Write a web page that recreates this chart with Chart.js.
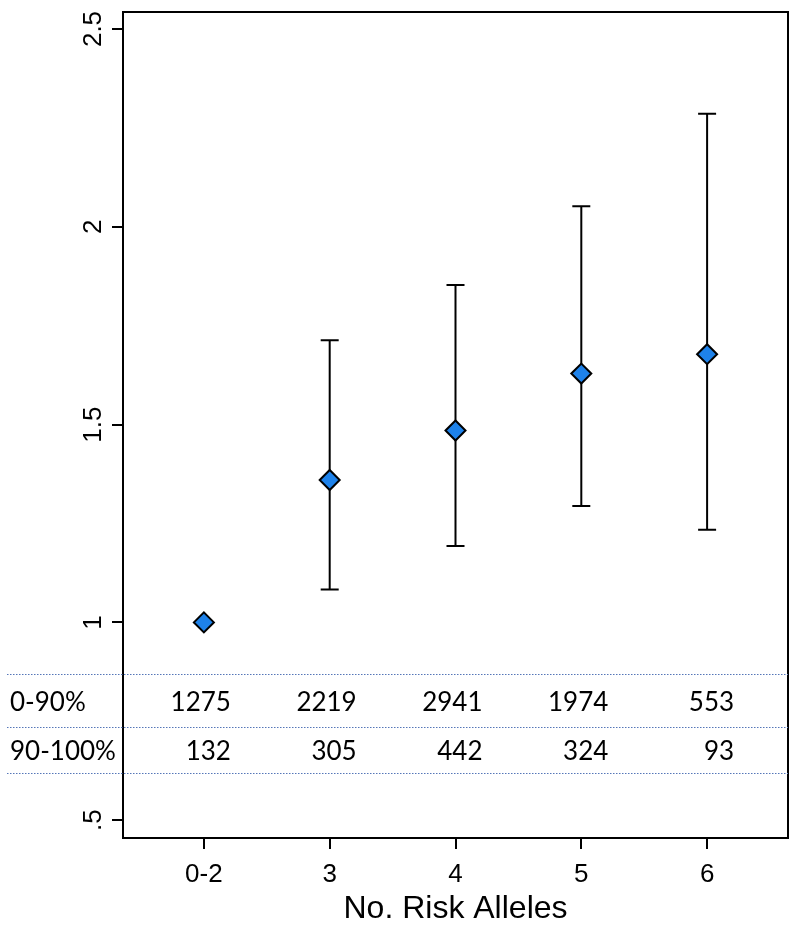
<!DOCTYPE html>
<html>
<head>
<meta charset="utf-8">
<script src="https://cdn.jsdelivr.net/npm/chart.js@4.4.0/dist/chart.umd.min.js"></script>
<style>
  html, body { margin: 0; padding: 0; background: #fff; }
  #wrap { width: 800px; height: 928px; }
</style>
</head>
<body>
<div id="wrap"><canvas id="chart" width="800" height="928"></canvas></div>
<script>
// data
const categories = ["0-2", "3", "4", "5", "6"];
const oddsRatio = [1.0, 1.36, 1.485, 1.629, 1.678];
const ciLow = [null, 1.083, 1.193, 1.294, 1.234];
const ciHigh = [null, 1.713, 1.853, 2.052, 2.286];
const yTicks = [0.5, 1, 1.5, 2, 2.5];
const yTickLabels = [".5", "1", "1.5", "2", "2.5"];
const rowLabels = ["0-90%", "90-100%"];
const counts0to90 = [1275, 2219, 2941, 1974, 553];
const counts90to100 = [132, 305, 442, 324, 93];

const tableRows = [counts0to90, counts90to100];
const tableLines = [674, 727, 773];
const rowCenters = [703, 752];

const points = categories.map((c, i) => ({ x: i + 1, y: oddsRatio[i] }));

// error bars, box, rotated y labels and the count table
const extras = {
  id: "extras",
  beforeDatasetsDraw(chart) {
    const ctx = chart.ctx, xs = chart.scales.x, ys = chart.scales.y;
    ctx.save();
    ctx.strokeStyle = "#000";
    ctx.lineWidth = 2;
    categories.forEach((c, i) => {
      if (ciLow[i] == null) return;
      const px = xs.getPixelForValue(i + 1);
      const lo = ys.getPixelForValue(ciLow[i]);
      const hi = ys.getPixelForValue(ciHigh[i]);
      ctx.beginPath();
      ctx.moveTo(px, lo); ctx.lineTo(px, hi);
      ctx.moveTo(px - 9, lo); ctx.lineTo(px + 9, lo);
      ctx.moveTo(px - 9, hi); ctx.lineTo(px + 9, hi);
      ctx.stroke();
    });
    ctx.restore();
  },
  afterDraw(chart) {
    const ctx = chart.ctx, a = chart.chartArea, xs = chart.scales.x, ys = chart.scales.y;
    ctx.save();
    // box
    ctx.strokeStyle = "#000";
    ctx.lineWidth = 2;
    ctx.strokeRect(a.left, a.top, a.right - a.left, a.bottom - a.top);

    // y tick labels, vertical
    ctx.fillStyle = "#000";
    ctx.font = "26px 'Liberation Sans', Arial, sans-serif";
    ctx.textAlign = "center";
    ctx.textBaseline = "middle";
    yTicks.forEach((v, i) => {
      ctx.save();
      ctx.translate(94, ys.getPixelForValue(v));
      ctx.rotate(-Math.PI / 2);
      ctx.fillText(yTickLabels[i], 0, 0);
      ctx.restore();
    });

    // table lines
    ctx.strokeStyle = "#5576b8";
    ctx.lineWidth = 1.2;
    ctx.setLineDash([1.5, 1.5]);
    tableLines.forEach(y => {
      ctx.beginPath();
      ctx.moveTo(7, y + 0.5);
      ctx.lineTo(a.right, y + 0.5);
      ctx.stroke();
    });
    ctx.setLineDash([]);

    // table text
    ctx.font = "26px Lato, 'Open Sans', sans-serif";
    ctx.fillStyle = "#000";
    ctx.textBaseline = "middle";
    rowLabels.forEach((lab, r) => {
      ctx.textAlign = "left";
      ctx.fillText(lab, 10, rowCenters[r]);
      ctx.textAlign = "right";
      tableRows[r].forEach((n, i) => {
        ctx.fillText(String(n), xs.getPixelForValue(i + 1) + 27, rowCenters[r]);
      });
    });
    ctx.restore();
  }
};

new Chart(document.getElementById("chart"), {
  type: "scatter",
  data: {
    datasets: [{
      data: points,
      pointStyle: "rectRot",
      pointRadius: 10,
      pointHoverRadius: 10,
      backgroundColor: "#1e82ea",
      borderColor: "#000",
      borderWidth: 2
    }]
  },
  options: {
    responsive: false,
    animation: false,
    layout: { padding: { top: 9, right: 11, left: 0, bottom: 0 } },
    plugins: { legend: { display: false }, tooltip: { enabled: false } },
    scales: {
      x: {
        type: "linear",
        min: 0.357,
        max: 5.643,
        afterBuildTicks: s => { s.ticks = categories.map((c, i) => ({ value: i + 1 })); },
        afterFit: s => { s.height = 90; },
        grid: { drawOnChartArea: false, color: "#000", lineWidth: 2, tickLength: 11 },
        border: { display: true, color: "#000", width: 2 },
        ticks: {
          color: "#000",
          padding: 10,
          maxRotation: 0,
          font: { family: "'Liberation Sans', Arial, sans-serif", size: 26 },
          callback: v => categories[v - 1]
        },
        title: {
          display: true,
          text: "No. Risk Alleles",
          color: "#000",
          padding: { top: 0, bottom: 0 },
          font: { family: "'Liberation Sans', Arial, sans-serif", size: 32 }
        }
      },
      y: {
        min: 0.455,
        max: 2.543,
        afterBuildTicks: s => { s.ticks = yTicks.map(v => ({ value: v })); },
        afterFit: s => { s.width = 123; },
        grid: { drawOnChartArea: false, color: "#000", lineWidth: 2, tickLength: 11 },
        border: { display: true, color: "#000", width: 2 },
        ticks: { display: false }
      }
    }
  },
  plugins: [extras]
});
</script>
</body>
</html>
